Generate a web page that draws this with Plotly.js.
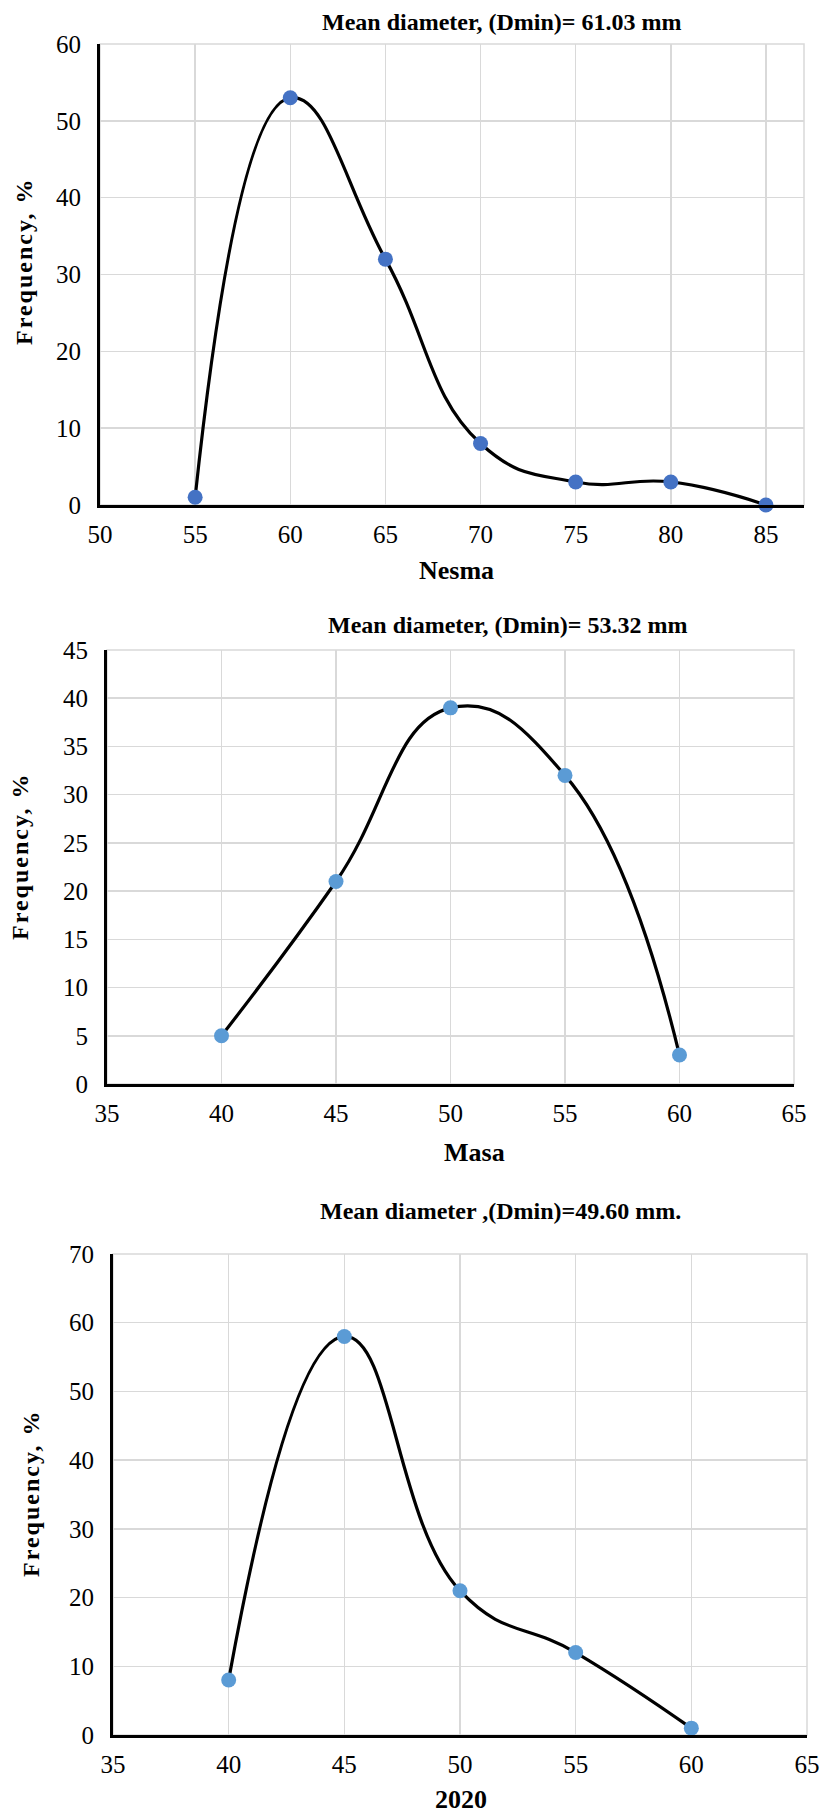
<!DOCTYPE html>
<html>
<head>
<meta charset="utf-8">
<script src="https://cdn.plot.ly/plotly-3.0.1.min.js"></script>
<style>
  html, body { margin: 0; padding: 0; background: #ffffff; }
  #chart { width: 821px; height: 1814px; }
  g.annotation[data-index="2"] text,
  g.annotation[data-index="5"] text,
  g.annotation[data-index="8"] text { letter-spacing: 2px; }
</style>
</head>
<body>
<div id="chart"></div>
<script>
// ---- Data ----
const nesmaSize = [55, 60, 65, 70, 75, 80, 85];
const nesmaFreq = [1, 53, 32, 8, 3, 3, 0];

const masaSize = [40, 45, 50, 55, 60];
const masaFreq = [5, 21, 39, 32, 3];

const y2020Size = [40, 45, 50, 55, 60];
const y2020Freq = [8, 58, 21, 12, 1];

const titles = [
  "Mean diameter, (Dmin)= 61.03 mm",
  "Mean diameter, (Dmin)= 53.32 mm",
  "Mean diameter ,(Dmin)=49.60 mm."
];
const xTitles = ["Nesma", "Masa", "2020"];
const yTitle = "Frequency, %";

// ---- Layout helpers (pixels -> paper) ----
const W = 821, H = 1814;
const px = v => v / W;
const py = v => 1 - v / H;

const boxes = [
  {l: 100, r: 804, t: 44, b: 505, xr: [50, 87], yr: [0, 60], ydt: 10},
  {l: 107, r: 794, t: 650, b: 1084, xr: [35, 65], yr: [0, 45], ydt: 5},
  {l: 113, r: 807, t: 1254, b: 1735, xr: [35, 65], yr: [0, 70], ydt: 10}
];
const titlePos = [{x: 501, y: 22}, {x: 508, y: 625}, {x: 500, y: 1211}];
const xTitlePos = [{x: 457, y: 570}, {x: 475, y: 1152}, {x: 461, y: 1799}];
const yTitlePos = [{x: 24, y: 261}, {x: 20, y: 856}, {x: 31, y: 1493}];
const markerColors = ["#4472C4", "#5B9BD5", "#5B9BD5"];

const font = "Liberation Serif";
const series = [[nesmaSize, nesmaFreq], [masaSize, masaFreq], [y2020Size, y2020Freq]];

const traces = [];
const layout = {
  width: W, height: H,
  margin: {l: 0, r: 0, t: 0, b: 0},
  paper_bgcolor: "#ffffff",
  plot_bgcolor: "rgba(0,0,0,0)",
  showlegend: false,
  font: {family: font, color: "#000000", size: 25},
  annotations: [],
  shapes: []
};

boxes.forEach((bx, i) => {
  const n = i === 0 ? "" : String(i + 1);
  const xa = "xaxis" + n, ya = "yaxis" + n;
  traces.push({
    x: series[i][0], y: series[i][1],
    xaxis: "x" + n, yaxis: "y" + n,
    type: "scatter", mode: "lines+markers",
    line: {color: "#000000", width: 3.2, shape: "spline", smoothing: 1.3},
    marker: {color: markerColors[i], size: 15},
    cliponaxis: false,
    hoverinfo: "skip"
  });
  layout[xa] = {
    domain: [px(bx.l), px(bx.r)],
    anchor: "y" + n,
    range: bx.xr, dtick: 5, tick0: 0,
    showgrid: true, gridcolor: "#d9d9d9", gridwidth: 1.5,
    showline: true, linecolor: "#000000", linewidth: 3,
    zeroline: false, ticks: "",
    ticklabelstandoff: 5,
    tickfont: {family: font, size: 25, color: "#000000"}
  };
  layout[ya] = {
    domain: [py(bx.b), py(bx.t)],
    anchor: "x" + n,
    range: bx.yr, dtick: bx.ydt, tick0: 0,
    showgrid: true, gridcolor: "#d9d9d9", gridwidth: 1.5,
    showline: true, linecolor: "#000000", linewidth: 3,
    zeroline: false, ticks: "",
    ticklabelstandoff: 11,
    tickfont: {family: font, size: 25, color: "#000000"}
  };
  // plot area border (light gray)
  layout.shapes.push({
    type: "rect", xref: "paper", yref: "paper", layer: "below",
    x0: px(bx.l), x1: px(bx.r), y0: py(bx.b), y1: py(bx.t),
    line: {color: "#d9d9d9", width: 1.5}
  });
  layout.annotations.push({
    text: "<b>" + titles[i] + "</b>", showarrow: false,
    xref: "paper", yref: "paper",
    x: px(titlePos[i].x), y: py(titlePos[i].y),
    xanchor: "center", yanchor: "middle",
    font: {family: font, size: 24, color: "#000000"}
  });
  layout.annotations.push({
    text: "<b>" + xTitles[i] + "</b>", showarrow: false,
    xref: "paper", yref: "paper",
    x: px(xTitlePos[i].x), y: py(xTitlePos[i].y),
    xanchor: "center", yanchor: "middle",
    font: {family: font, size: 26, color: "#000000"}
  });
  layout.annotations.push({
    text: "<b>" + yTitle + "</b>", showarrow: false,
    xref: "paper", yref: "paper", textangle: -90,
    x: px(yTitlePos[i].x), y: py(yTitlePos[i].y),
    xanchor: "center", yanchor: "middle",
    font: {family: font, size: 24, color: "#000000"}
  });
});

Plotly.newPlot("chart", traces, layout, {staticPlot: true, displayModeBar: false});
</script>
</body>
</html>
